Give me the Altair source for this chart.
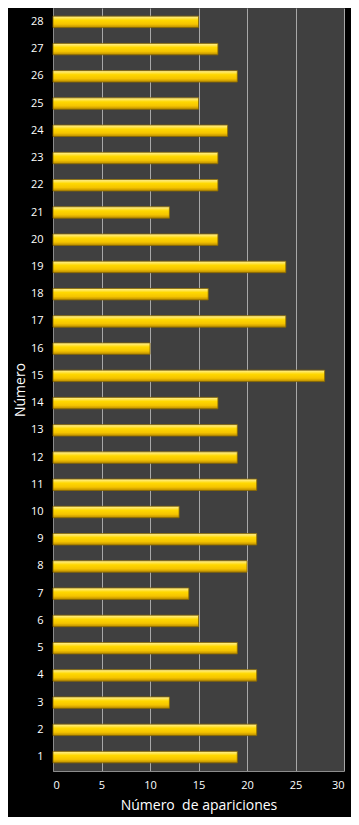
import altair as alt
import pandas as pd

numeros = list(range(1, 29))
apariciones = [19, 21, 12, 21, 19, 15, 14, 20, 21, 13, 21, 19, 19, 17,
               28, 10, 24, 16, 24, 17, 12, 17, 17, 18, 15, 19, 17, 15]

df = pd.DataFrame({"Número": [str(n) for n in numeros], "Apariciones": apariciones})
orden = [str(n) for n in reversed(numeros)]

grad = alt.Gradient(
    gradient="linear",
    stops=[
        alt.GradientStop(color="#fff2a0", offset=0),
        alt.GradientStop(color="#ffd800", offset=0.35),
        alt.GradientStop(color="#f5c400", offset=0.7),
        alt.GradientStop(color="#b88a00", offset=1),
    ],
    x1=0, x2=0, y1=0, y2=1,
)

bars = alt.Chart(df).mark_bar(color=grad, stroke="#8a6a00", strokeWidth=0.8).encode(
    x=alt.X("Apariciones:Q",
            scale=alt.Scale(domain=[0, 30], nice=False),
            axis=alt.Axis(values=[0, 5, 10, 15, 20, 25, 30], title="Número\u00a0 de apariciones",
                          grid=True, gridColor="#a8a8a8", gridWidth=1,
                          domainColor="#8c8c8c", ticks=False, labelPadding=8,
                          titlePadding=8)),
    y=alt.Y("Número:N", sort=orden,
            scale=alt.Scale(paddingInner=0.58, paddingOuter=0.3),
            axis=alt.Axis(title="Número", ticks=False, domainColor="#8c8c8c",
                          labelPadding=10, titlePadding=3)),
)

chart = bars.properties(
    width=291, height=763, background="black",
    autosize=alt.AutoSizeParams(type="none"),
    padding={"left": 45, "top": 0, "right": 7, "bottom": 46},
).configure_view(
    fill="#404040", stroke=None
).configure_axis(
    labelColor="white", titleColor="white", labelFont="Open Sans", titleFont="Open Sans",
    labelFontSize=11, titleFontSize=14, titleFontWeight="normal"
)

chart.save("out.html", embed_options={"renderer": "svg", "actions": False})
